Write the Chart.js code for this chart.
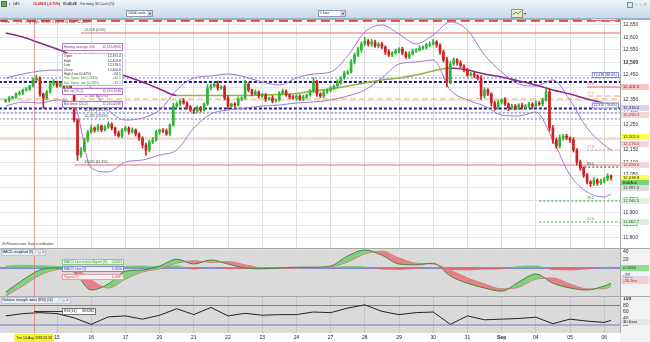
<!DOCTYPE html>
<html>
<head>
<meta charset="utf-8">
<script src="https://cdn.jsdelivr.net/npm/chart.js@4.4.0/dist/chart.umd.min.js"></script>
<style>
body { margin:0; width:650px; height:342px; overflow:hidden; background:#fff; position:relative; }
.abs { position:absolute; left:0; }
</style>
</head>
<body>
<div class="abs" style="top:0"><canvas id="cHead" width="650" height="19"></canvas></div>
<div class="abs" style="top:19px"><canvas id="cMain" width="650" height="229"></canvas></div>
<div class="abs" style="top:248px"><canvas id="cMacd" width="650" height="48"></canvas></div>
<div class="abs" style="top:296px"><canvas id="cRsi" width="650" height="46"></canvas></div>

<script>
const FONT = '"Liberation Sans", Arial, sans-serif';
const SMALL = 3.4;

// ---- time axis (bar index, 10 bars per trading day) ----
const X_MIN = -1.67;
const X_MAX = 179.62;
const dayTicks = [15, 25, 35, 45, 55, 65, 75, 85, 95, 105, 115, 125, 135, 145, 155, 165, 175];
const dayLabels = ['15', '16', '17', '20', '21', '22', '23', '24', '27', '28', '29', '30', '31', 'Sep', '04', '05', '06'];
const crossBar = 8.3;
const crossLabel = 'Tue 14-Aug 2018 20:30';

// ---- price candles ----
const priceTicks = [11800, 11850, 11900, 11950, 12000, 12050, 12100, 12150, 12200, 12250,
                    12300, 12350, 12400, 12450, 12500, 12550, 12600, 12650];
const firstOpen = 12345;
const closes = [
  12350, 12358, 12362, 12374, 12378, 12390, 12394, 12406, 12430, 12438,
  12374, 12358, 12382, 12414, 12422, 12406, 12414, 12398, 12406, 12390,
  12270, 12130, 12150, 12190, 12222, 12238, 12230, 12246, 12230, 12242,
  12254, 12238, 12218, 12206, 12230, 12238, 12222, 12230, 12214, 12198,
  12170, 12150, 12182, 12190, 12222, 12230, 12226, 12214, 12250, 12326,
  12334, 12346, 12338, 12322, 12310, 12306, 12318, 12310, 12334, 12398,
  12406, 12414, 12398, 12402, 12358, 12326, 12334, 12330, 12354, 12358,
  12414, 12390, 12374, 12382, 12366, 12370, 12354, 12358, 12346, 12350,
  12378, 12386, 12370, 12362, 12358, 12366, 12354, 12362, 12370, 12386,
  12422, 12374, 12366, 12382, 12390, 12398, 12406, 12422, 12438, 12458,
  12462, 12502, 12530, 12550, 12574, 12586, 12574, 12582, 12566, 12574,
  12562, 12542, 12530, 12538, 12546, 12554, 12538, 12522, 12534, 12546,
  12550, 12558, 12562, 12570, 12574, 12582, 12570, 12542, 12510, 12422,
  12494, 12510, 12498, 12486, 12470, 12450, 12454, 12446, 12438, 12366,
  12390, 12374, 12338, 12318, 12342, 12350, 12334, 12318, 12326, 12318,
  12330, 12322, 12326, 12334, 12326, 12338, 12334, 12350, 12382, 12238,
  12190, 12166, 12198, 12206, 12198, 12190, 12150, 12102, 12078, 12050,
  12022, 12014, 12030, 12018, 12026, 12034, 12046, 12039
];
const wickUp = [
  4, 6, 3, 5, 8, 4, 6, 3, 9, 12,   5, 4, 7, 6, 10, 4, 6, 5, 3, 8,
  6, 4, 10, 8, 6, 12, 5, 7, 4, 6,  9, 5, 4, 8, 6, 7, 5, 9, 4, 6,
  5, 8, 6, 10, 7, 4, 6, 8, 5, 12,  8, 6, 10, 5, 7, 4, 9, 6, 5, 14,
  8, 6, 12, 5, 7, 10, 4, 6, 8, 5,  16, 6, 4, 8, 5, 7, 6, 4, 9, 5,
  6, 8, 5, 4, 7, 6, 5, 8, 4, 6,    18, 8, 5, 6, 4, 7, 5, 9, 6, 8,
  6, 10, 8, 12, 9, 14, 6, 10, 8, 6, 7, 5, 9, 6, 8, 5, 7, 6, 10, 8,
  6, 9, 5, 7, 8, 10, 6, 5, 8, 12,  10, 8, 6, 9, 5, 7, 6, 8, 5, 10,
  9, 6, 5, 8, 7, 6, 10, 5, 7, 6,   5, 8, 6, 7, 5, 9, 6, 8, 20, 14,
  10, 8, 12, 6, 7, 5, 9, 6, 8, 5,  7, 6, 10, 5, 8, 6, 9, 5
];
const wickDn = [
  5, 8, 4, 6, 3, 7, 5, 6, 4, 8,    10, 40, 6, 5, 8, 6, 4, 9, 5, 7,
  8, 22, 10, 6, 8, 5, 9, 6, 7, 5,  6, 8, 10, 5, 7, 6, 9, 5, 8, 10,
  12, 22, 8, 6, 5, 9, 7, 6, 8, 5,  6, 8, 5, 9, 7, 10, 6, 8, 5, 6,
  7, 5, 9, 6, 8, 12, 6, 9, 5, 7,   6, 8, 7, 5, 9, 6, 10, 5, 7, 6,
  5, 7, 6, 8, 5, 9, 6, 7, 5, 6,    8, 10, 6, 7, 5, 8, 6, 7, 9, 5,
  6, 5, 8, 7, 9, 6, 8, 10, 6, 7,   8, 10, 6, 7, 5, 9, 8, 6, 7, 5,
  6, 5, 7, 8, 6, 5, 9, 10, 8, 20,  8, 6, 9, 7, 8, 6, 5, 7, 9, 14,
  8, 7, 12, 9, 6, 8, 7, 10, 6, 8,  7, 9, 6, 8, 10, 7, 6, 8, 5, 12,
  14, 10, 8, 9, 7, 10, 8, 12, 9, 10, 8, 10, 7, 9, 6, 8, 7, 10
];

// ---- indicators, read every 5 bars ----
const sampleBars = [0, 5, 10, 15, 20, 25, 30, 35, 40, 45, 50, 55, 60, 65, 70, 75, 80, 85, 90,
                    95, 100, 105, 110, 115, 120, 125, 130, 135, 140, 145, 150, 155, 160, 165, 170, 175, 177];
const ma200 = [12618, 12602, 12578, 12554, 12526, 12498, 12470, 12446, 12422, 12394, 12368, 12368, 12368,
               12368, 12368, 12370, 12372, 12376, 12386, 12394, 12406, 12418, 12430, 12438, 12450, 12466,
               12478, 12470, 12454, 12442, 12426, 12410, 12390, 12374, 12354, 12338, 12334];
const bolUp = [12438, 12454, 12466, 12470, 12454, 12398, 12310, 12270, 12278, 12310, 12390, 12438, 12446,
               12454, 12442, 12422, 12410, 12438, 12454, 12462, 12526, 12622, 12650, 12614, 12574, 12610,
               12662, 12630, 12530, 12462, 12414, 12406, 12430, 12350, 12238, 12170, 12150];
const bolDown = [12326, 12342, 12338, 12350, 12330, 12078, 12062, 12102, 12110, 12130, 12150, 12238, 12294,
                 12310, 12318, 12326, 12330, 12338, 12342, 12350, 12366, 12390, 12438, 12494, 12502, 12510,
                 12390, 12350, 12326, 12290, 12286, 12302, 12190, 12050, 11982, 11962, 11974];
const macdLine = [-60, -30, -5, 0, -10, -55, -40, -8, -5, 5, 22, 10, 20, 10, 0, -2, 0, 2, 2,
                  5, 30, 45, 32, 10, 8, 12, -20, -38, -50, -58, -35, -15, -38, -50, -55, -45, -38];
const signalLine = [-70, -45, -18, -4, -2, -30, -50, -28, -10, -2, 12, 18, 14, 16, 8, 0, -1, 0, 1,
                    3, 15, 35, 42, 25, 12, 10, -5, -25, -40, -52, -48, -28, -25, -40, -52, -52, -46];
const macdHist = [6, 8, 7, 5, 2, -6, -4, 5, 6, 4, 6, -4, 3, -3, -2, -1, 2, 2, 1,
                  2, 5, 4, -4, -5, -2, 1, -5, -6, -4, -3, 5, 6, -5, -6, -3, 3, 4];
const macdTicks = [40, 20, 0, -20];
const rsiValues = [48, 55, 58, 55, 42, 22, 45, 48, 38, 50, 70, 52, 74, 48, 56, 50, 52, 52, 60,
                   58, 72, 82, 62, 52, 58, 60, 22, 48, 36, 38, 40, 44, 24, 38, 32, 28, 34];
const rsiTicks = [100, 80, 60, 40, 20];
const rsiBands = [80, 20];

// ---- horizontal levels on the price panel ----
const levelPrices = [12667, 12618, 12438, 12422, 12402, 12366, 12354, 12316, 12298, 12274, 12194, 12150, 12090, 12082, 11946, 11862];
const levelFrom   = [-2, 22, -2, -2, 170, 170, -2, -2, -2, -2, -2, 170, 20, 168, 156, 156];
const levelKinds  = ['redDash', 'red', 'blueDot', 'navyDash', 'red', 'salmonDash', 'salmonDash', 'navyDash',
                     'blueDot', 'blueDot', 'salmon', 'salmonDot', 'red', 'blackDot', 'greenDot', 'greenDot'];
const fibLeftPrices = [12618, 12354, 12298, 12274, 12090];
const fibLeftTexts = ['12,618 (0.0%)', '12,354 (50.0%)', '12,298 (38.2%)', '12,274 (23.6%)', '12,090 (61.8%)'];
const fibRightPrices = [12667, 12438, 12316];
const fibRightTexts = ['12,667 (100.0%)', '12,438 (88.6%)', '12,316 (78.6%)'];
const fibMiniPrices = [12402, 12366, 12150, 12082, 11946, 11862];
const fibMiniTexts = ['61.8', '50.0', '61.8', '69.5', '38.2', '61.8'];
const tagPrices = [12402, 12316, 12290, 12202, 12176, 12090, 12038.8, 12018, 11997, 11946, 11862];
const tagTexts = ['12,401.6', '12,316.0', '12,290.3', '12,202.0', '12,176.5', '12,090.0', '12,038.8', 'Bid/Ask', '11,997.3', '11,946.5', '11,862.7'];
const tagKinds = ['red', 'navy', 'pink', 'yellow', 'pink', 'pink', 'yellow', 'green', 'gray', 'lgreen', 'lgreen'];
const macdTagValues = [0, -27, -33];
const macdTagTexts = ['0.0563', '-25.9xx', '-26.9xx'];
const rsiTagValue = 30.6;
const rsiTagText = '30.6xxx';

// ---- crosshair read-outs ----
const ohlcNames = ['Open', 'High', 'Low', 'Close', 'High-Low (0.44%)', 'Var. Open. bid (0.34%)', 'Var. Open. ask (0.28%)'];
const ohlcValues = ['12,391.4', '12,403.8', '12,378.5', '12,400.8', '+54.5', '+42.1', '+35.1'];
const macdLegendNames = ['MACD Line minus Signal (9)', 'MACD Line (9)', 'Signal (9)'];
const macdLegendValues = ['0.0563', '1.0650', '1.0087'];

// ---- styles ----
const UP = '#2fb52f', DOWN = '#cf2020';
const levelStyle = {
  redDash:   { c: '#e23c3c', w: 2, d: [9, 5] },
  red:       { c: '#e06a6a', w: 1, d: [] },
  blueDot:   { c: '#6a6ad6', w: 1, d: [2, 2] },
  navyDash:  { c: '#1c1c8c', w: 2, d: [3, 2] },
  salmonDash:{ c: '#f2a383', w: 1, d: [6, 3] },
  salmon:    { c: '#f0b8a8', w: 1, d: [] },
  salmonDot: { c: '#e08a8a', w: 1, d: [2, 2] },
  blackDot:  { c: '#333333', w: 1, d: [2, 2] },
  greenDot:  { c: '#3f9f3f', w: 1, d: [2, 2] }
};
const tagStyle = {
  red: ['#f6c6c6', '#a01010'], navy: ['#d6d6f2', '#202050'], pink: ['#f3d6d6', '#a03030'],
  yellow: ['#ffff50', '#111'], green: ['#74d474', '#063806'], gray: ['#dcdcdc', '#333'],
  lgreen: ['#dcf2dc', '#226622']
};

const pts = vals => vals.map((v, k) => ({ x: sampleBars[k], y: v }));
const hline = (y, from) => [{ x: from, y: y }, { x: X_MAX, y: y }];

// ---- small drawing helpers ----
function txt(ctx, s, x, y, color, size, align, style) {
  ctx.font = (style ? style + ' ' : '') + (size || SMALL) + 'px ' + FONT;
  ctx.fillStyle = color;
  ctx.textAlign = align || 'left';
  ctx.textBaseline = 'middle';
  ctx.fillText(s, x, y);
}
function box(ctx, x, y, w, h, border, bg) {
  ctx.fillStyle = bg;
  ctx.fillRect(x, y, w, h);
  ctx.strokeStyle = border;
  ctx.lineWidth = 1;
  ctx.strokeRect(x + 0.5, y + 0.5, w - 1, h - 1);
}
function drawTag(ctx, a, y, text, bg, fg) {
  ctx.fillStyle = bg;
  ctx.fillRect(a.right + 1, Math.round(y) - 3, 28, 6);
  txt(ctx, text, a.right + 3, Math.round(y), fg, 4.2);
}

// ---- header bar ----
(function drawHeader() {
  const ctx = document.getElementById('cHead').getContext('2d');
  const g = ctx.createLinearGradient(0, 0, 0, 19);
  g.addColorStop(0, '#eef4f9');
  g.addColorStop(1, '#c6d7e6');
  ctx.fillStyle = g;
  ctx.fillRect(0, 0, 650, 19);
  ctx.fillStyle = '#9db2c5';
  ctx.fillRect(0, 18, 650, 1);
  box(ctx, 1, 1, 6, 6, '#3a7a3a', '#62b060');
  txt(ctx, '▾  DAX', 9, 4.5, '#333');
  txt(ctx, '12,038.8 (-0.71%)', 33, 4.5, '#c41a1a', SMALL, 'left', 'bold');
  txt(ctx, '01:43:28', 63, 4.5, '#222', SMALL, 'left', 'bold');
  txt(ctx, 'Germany 30 Cash (€5)', 80, 4.5, '#333');
  box(ctx, 126, 10, 27, 7, '#8c9bb0', '#fff');
  ctx.fillStyle = '#c8d4e0'; ctx.fillRect(147, 11, 5, 5);
  txt(ctx, '10000 units', 128, 13.5, '#222');
  txt(ctx, '▾', 149.5, 13.5, '#333', 4, 'center');
  box(ctx, 318, 10, 28, 7, '#8c9bb0', '#fff');
  ctx.fillStyle = '#c8d4e0'; ctx.fillRect(340, 11, 5, 5);
  txt(ctx, '1 hour', 320, 13.5, '#222');
  txt(ctx, '▾', 342.5, 13.5, '#333', 4, 'center');
  box(ctx, 511, 9, 12, 9, '#8a9a70', '#e4edcc');
  ctx.strokeStyle = '#5a9a3a';
  ctx.beginPath(); ctx.moveTo(513, 15); ctx.lineTo(516, 12); ctx.lineTo(518, 14); ctx.lineTo(521, 11); ctx.stroke();
  txt(ctx, '▾', 525, 13.5, '#333', 4, 'center');
  box(ctx, 627, 2, 6, 6, '#7a8ea2', '#d8e2ec');
  txt(ctx, '–  ▫  ×', 635, 5, '#6a7e92', 4.5);
})();

// ---- plugins ----
const bgPlugin = {
  id: 'bg',
  beforeDraw(chart, args, o) {
    const { ctx, chartArea: a } = chart;
    ctx.save();
    ctx.fillStyle = o.axis;
    ctx.fillRect(a.right, 0, chart.width - a.right, chart.height);
    ctx.fillStyle = o.plot;
    ctx.fillRect(a.left, a.top, a.right - a.left, a.bottom - a.top);
    ctx.restore();
  },
  afterDatasetsDraw(chart) {
    const { ctx, chartArea: a } = chart;
    ctx.save();
    ctx.strokeStyle = '#a9a9a9';
    ctx.lineWidth = 1;
    ctx.beginPath();
    ctx.moveTo(0, 0.5); ctx.lineTo(chart.width, 0.5);
    ctx.moveTo(a.right + 0.5, 0); ctx.lineTo(a.right + 0.5, a.bottom);
    ctx.stroke();
    const x = Math.round(chart.scales.x.getPixelForValue(crossBar)) + 0.5;
    ctx.strokeStyle = 'rgba(214,120,120,0.7)';
    ctx.beginPath(); ctx.moveTo(x, a.top); ctx.lineTo(x, a.bottom); ctx.stroke();
    ctx.restore();
  }
};

const priceNotes = {
  id: 'priceNotes',
  afterDraw(chart) {
    const { ctx, chartArea: a, scales: { x, y } } = chart;
    ctx.save();
    const lx = x.getPixelForValue(23);
    fibLeftPrices.forEach((p, i) => txt(ctx, fibLeftTexts[i], lx, y.getPixelForValue(p) - 3, '#444'));
    fibRightPrices.forEach((p, i) => {
      const py = y.getPixelForValue(p);
      ctx.font = SMALL + 'px ' + FONT;
      const w = ctx.measureText(fibRightTexts[i]).width + 4;
      box(ctx, a.right - w - 1, py - 6, w, 6, i === 0 ? '#e23c3c' : '#8a8ad6', '#fff');
      txt(ctx, fibRightTexts[i], a.right - 3, py - 3, i === 0 ? '#a02020' : '#30307a', SMALL, 'right');
    });
    const mx = x.getPixelForValue(172);
    fibMiniPrices.forEach((p, i) => {
      const c = levelStyle[levelKinds[levelPrices.indexOf(p)]].c;
      txt(ctx, fibMiniTexts[i], mx, y.getPixelForValue(p) - 3, c, SMALL, 'right');
    });
    tagPrices.forEach((p, i) => {
      const s = tagStyle[tagKinds[i]];
      drawTag(ctx, a, y.getPixelForValue(p), tagTexts[i], s[0], s[1]);
    });
    // title row and crosshair read-outs
    txt(ctx, 'Price', 2, 3.5, '#333');
    txt(ctx, '⤢ ▢ ⚙', 12, 3.5, '#666');
    txt(ctx, 'Chg High: 12,667.0 (-4.96%) Low: 12,038.8', 25, 3.5, '#8a2222');
    box(ctx, 62, 24, 61, 8, '#b777c9', '#fff');
    txt(ctx, 'Moving average 200', 64, 28, '#7a3a8a');
    txt(ctx, '12,555.8965', 121, 28, '#7a3a8a', SMALL, 'right');
    box(ctx, 62, 34, 61, 33, '#b9b9c9', '#fff');
    ohlcNames.forEach((n, i) => {
      const c = i > 4 ? '#2a9a2a' : '#333';
      txt(ctx, n, 64, 37.5 + i * 4.4, c);
      txt(ctx, ohlcValues[i], 121, 37.5 + i * 4.4, c, SMALL, 'right');
    });
    box(ctx, 62, 69, 61, 7, '#b777c9', '#fff');
    txt(ctx, 'Bol up (20,2)', 64, 72.5, '#7a3a8a');
    txt(ctx, '12,414.1548', 121, 72.5, '#7a3a8a', SMALL, 'right');
    box(ctx, 62, 82, 61, 7, '#b777c9', '#fff');
    txt(ctx, 'Bol down (20,2)', 64, 85.5, '#7a3a8a');
    txt(ctx, '12,260.4588', 121, 85.5, '#7a3a8a', SMALL, 'right');
    txt(ctx, 'IG Finance.com: Data is indicative', 2, 225, '#333', SMALL, 'left', 'italic');
    ctx.restore();
  }
};

const macdNotes = {
  id: 'macdNotes',
  afterDraw(chart) {
    const { ctx, chartArea: a, scales: { y } } = chart;
    ctx.save();
    const st = [['#8fdc8f', '#164016'], ['#d6d6f6', '#30307a'], ['#f3d0d0', '#a03030']];
    macdTagValues.forEach((v, i) => drawTag(ctx, a, y.getPixelForValue(v), macdTagTexts[i], st[i][0], st[i][1]));
    box(ctx, 1, 1, 45, 7, '#b8c8d8', '#e6edf4');
    txt(ctx, 'MACD, weighted (9)', 2.5, 4.5, '#223');
    txt(ctx, '⤢ ▢ ⚙', 34, 4.5, '#555');
    const lg = [['#86c886', '#eaf7ea', '#3c963c'], ['#8686cc', '#eeeeff', '#4646a8'], ['#e3a0a0', '#fdf0f0', '#c05858']];
    [11, 18, 26].forEach((top, i) => {
      box(ctx, 62, top, 62, 6, lg[i][0], lg[i][1]);
      txt(ctx, macdLegendNames[i], 64, top + 3, lg[i][2]);
      txt(ctx, macdLegendValues[i], 122, top + 3, lg[i][2], SMALL, 'right');
    });
    ctx.restore();
  }
};

const rsiNotes = {
  id: 'rsiNotes',
  afterDraw(chart) {
    const { ctx, chartArea: a, scales: { x, y } } = chart;
    ctx.save();
    drawTag(ctx, a, y.getPixelForValue(rsiTagValue), rsiTagText, '#e4e4e4', '#222');
    const cx = x.getPixelForValue(crossBar);
    ctx.font = SMALL + 'px ' + FONT;
    const w = ctx.measureText(crossLabel).width + 4;
    ctx.fillStyle = '#f4f03a';
    ctx.fillRect(cx - w / 2, a.bottom + 1, w, 8);
    txt(ctx, crossLabel, cx, a.bottom + 5.5, '#222', SMALL, 'center');
    ctx.strokeStyle = '#333';
    ctx.lineWidth = 1;
    ctx.beginPath();
    ctx.moveTo(cx, 15.5);
    ctx.lineTo(62, 15.5);
    ctx.stroke();
    box(ctx, 1, 1, 70, 7, '#b8c8d8', '#e6edf4');
    txt(ctx, 'Relative strength index (RSI) (14)', 2.5, 4.5, '#223');
    txt(ctx, '⤢ ▢ ⚙', 58, 4.5, '#555');
    box(ctx, 62, 12, 34, 7, '#777', '#fff');
    txt(ctx, 'RSI (14)', 64, 15.5, '#222');
    txt(ctx, '38.8282', 94, 15.5, '#222', SMALL, 'right');
    ctx.restore();
  }
};

function xScale(showLabels) {
  return {
    type: 'linear', min: X_MIN, max: X_MAX, offset: false,
    afterBuildTicks: s => { s.ticks = dayTicks.map(v => ({ value: v })); },
    afterFit: s => { s.height = showLabels ? 9 : 0; s.paddingLeft = 0; s.paddingRight = 0; },
    grid: { color: showLabels ? '#c6c6c6' : '#dedede', drawTicks: false, offset: false },
    border: { display: false },
    ticks: {
      display: showLabels, autoSkip: false, maxRotation: 0, padding: 2, color: '#222',
      font: c => ({ family: FONT, size: 5, weight: c.tick && c.tick.label === 'Sep' ? 'bold' : 'normal' }),
      callback: (v, i) => dayLabels[i]
    }
  };
}

function yScale(min, max, ticks, gridColor, boldValue) {
  return {
    position: 'right', min: min, max: max,
    afterBuildTicks: s => { s.ticks = ticks.map(v => ({ value: v })); },
    afterFit: s => { s.width = 30; s.paddingTop = 0; s.paddingBottom = 0; },
    grid: { color: gridColor, drawTicks: false },
    border: { display: false },
    ticks: {
      padding: 3, color: '#333',
      font: c => ({ family: FONT, size: 5, weight: c.tick && c.tick.value === boldValue ? 'bold' : 'normal' }),
      callback: v => v.toLocaleString('en-US')
    }
  };
}

const base = {
  animation: false, responsive: false, devicePixelRatio: 1, events: [],
  layout: { padding: 0 }
};

// ---- price panel ----
const opens = closes.map((c, i) => (i === 0 ? firstOpen : closes[i - 1]));
const candleColors = closes.map((c, i) => (c >= opens[i] ? UP : DOWN));
const bodies = closes.map((c, i) => ({ x: i, y: [opens[i], c] }));
const wicks = closes.map((c, i) => ({
  x: i, y: [Math.min(opens[i], c) - wickDn[i], Math.max(opens[i], c) + wickUp[i]]
}));

const levelSets = levelPrices.map((p, i) => {
  const s = levelStyle[levelKinds[i]];
  return {
    type: 'line', data: hline(p, levelFrom[i]), borderColor: s.c, borderWidth: s.w,
    borderDash: s.d, pointRadius: 0, order: 10
  };
});

new Chart(document.getElementById('cMain'), {
  type: 'bar',
  data: {
    datasets: [
      ...levelSets,
      { type: 'line', data: pts(bolUp), borderColor: '#a776cc', borderWidth: 1, pointRadius: 0,
        cubicInterpolationMode: 'monotone', order: 6 },
      { type: 'line', data: pts(bolDown), borderColor: '#a776cc', borderWidth: 1, pointRadius: 0,
        cubicInterpolationMode: 'monotone', order: 6 },
      { type: 'line', data: pts(ma200), borderWidth: 1.6, pointRadius: 0, cubicInterpolationMode: 'monotone',
        borderColor: '#8a2a8a', order: 5,
        segment: { borderColor: c => (c.p1.parsed.y >= c.p0.parsed.y ? '#95b23c' : '#8a2a8a') } },
      { data: wicks, backgroundColor: candleColors, barThickness: 1, grouped: false, order: 2 },
      { data: bodies, backgroundColor: candleColors, barThickness: 2, grouped: false, minBarLength: 1, order: 1 }
    ]
  },
  options: {
    ...base,
    plugins: { legend: { display: false }, tooltip: { enabled: false }, bg: { plot: '#ffffff', axis: '#ffffff' } },
    scales: { x: xScale(false), y: yScale(11758, 12674, priceTicks, '#e6e6e6', 12500) }
  },
  plugins: [bgPlugin, priceNotes]
});

// ---- MACD panel ----
new Chart(document.getElementById('cMacd'), {
  type: 'line',
  data: {
    datasets: [
      { data: pts(macdLine), borderColor: '#3c8c3c', borderWidth: 1, pointRadius: 0,
        cubicInterpolationMode: 'monotone',
        fill: { target: 1, above: 'rgba(116,204,116,0.85)', below: 'rgba(234,112,124,0.85)' } },
      { data: pts(signalLine), borderColor: '#e07a82', borderWidth: 1, pointRadius: 0,
        cubicInterpolationMode: 'monotone', fill: false },
      { data: pts(macdHist), borderWidth: 0, pointRadius: 0, cubicInterpolationMode: 'monotone',
        fill: { target: 'origin', above: 'rgba(96,200,96,0.85)', below: 'rgba(228,96,108,0.85)' } },
      { data: hline(0, X_MIN), borderColor: '#6c6cd0', borderWidth: 1.5, pointRadius: 0, fill: false }
    ]
  },
  options: {
    ...base,
    plugins: { legend: { display: false }, tooltip: { enabled: false }, bg: { plot: '#dadada', axis: '#f2f2f2' } },
    scales: { x: xScale(false), y: yScale(-70, 50, macdTicks, 'rgba(0,0,0,0)', null) }
  },
  plugins: [bgPlugin, macdNotes]
});

// ---- RSI panel ----
new Chart(document.getElementById('cRsi'), {
  type: 'line',
  data: {
    datasets: [
      { data: pts(rsiValues), borderColor: '#222', borderWidth: 1, pointRadius: 0, fill: false },
      ...rsiBands.map(v => ({ data: hline(v, X_MIN), borderColor: '#7676cc', borderWidth: 1.2,
        pointRadius: 0, fill: false }))
    ]
  },
  options: {
    ...base,
    plugins: { legend: { display: false }, tooltip: { enabled: false }, bg: { plot: '#dadada', axis: '#f2f2f2' } },
    scales: { x: xScale(true), y: yScale(-4.6, 109.2, rsiTicks, 'rgba(0,0,0,0)', 100) }
  },
  plugins: [bgPlugin, rsiNotes]
});
</script>
</body>
</html>
